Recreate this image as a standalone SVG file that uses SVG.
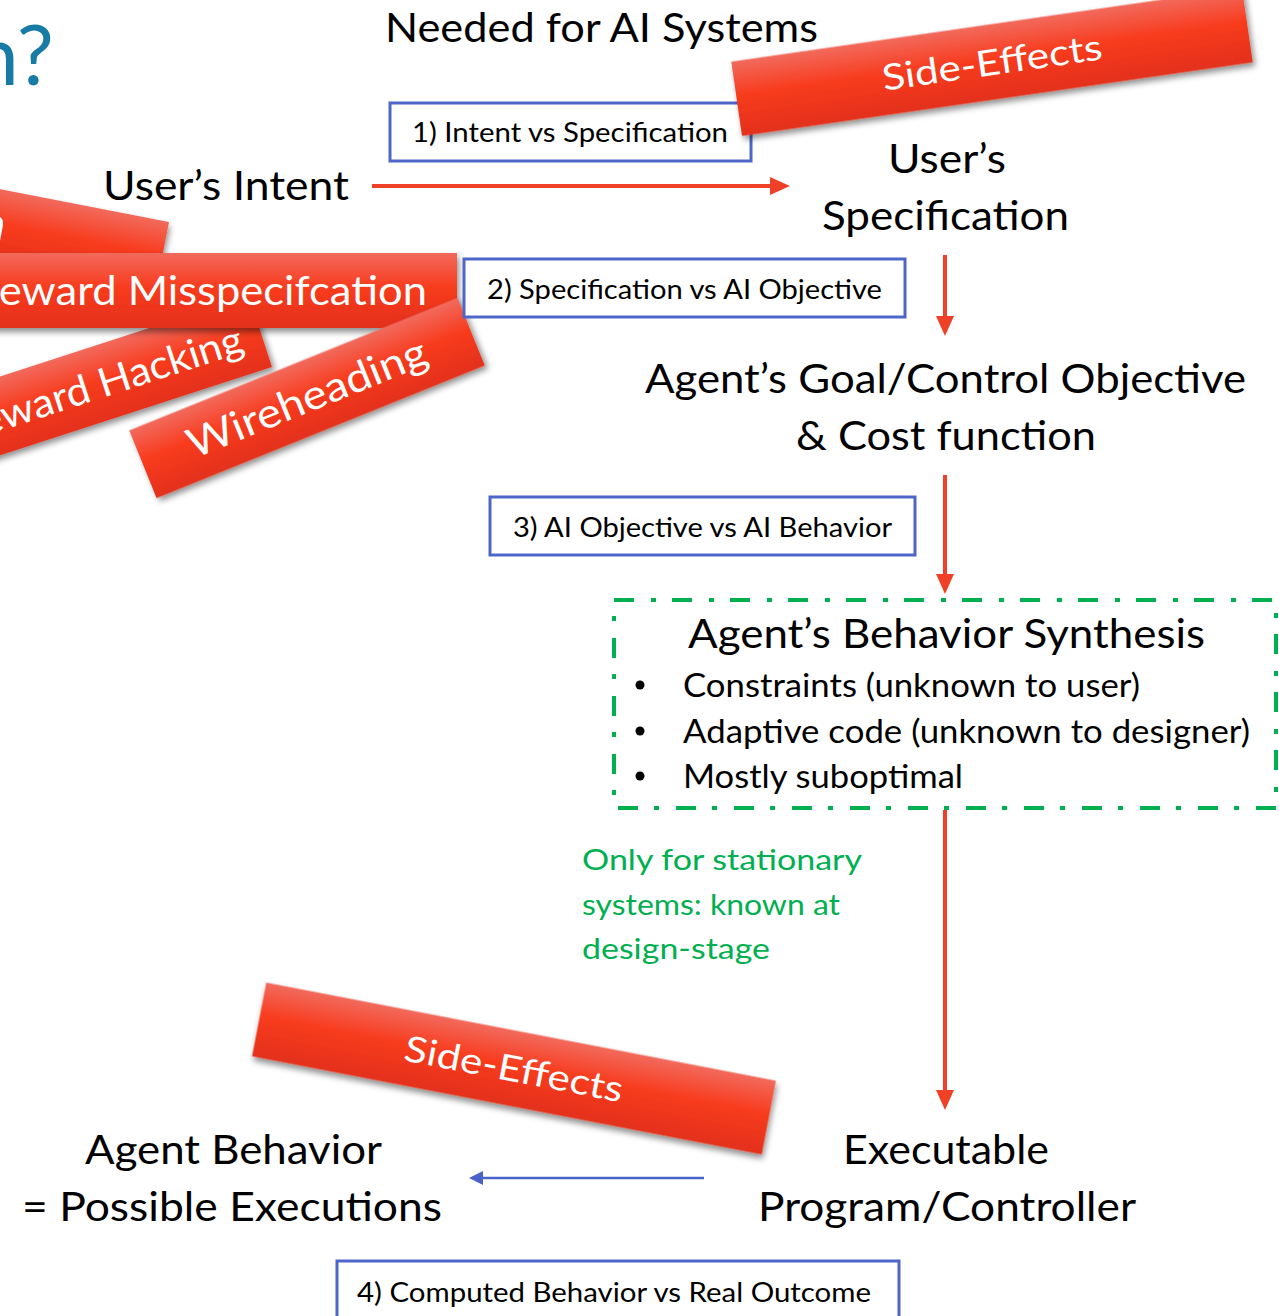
<svg xmlns="http://www.w3.org/2000/svg" width="1279" height="1316" viewBox="0 0 1279 1316">
  <defs>
    <linearGradient id="bannerFill" x1="0" y1="0" x2="0" y2="1">
      <stop offset="0" stop-color="#f26a5c"/>
      <stop offset="0.45" stop-color="#f83c1f"/>
      <stop offset="1" stop-color="#e3301a"/>
    </linearGradient>
    <filter id="bannerShadow" x="-10%" y="-30%" width="120%" height="170%">
      <feGaussianBlur in="SourceAlpha" stdDeviation="3"/>
      <feOffset dx="2" dy="4" result="off"/>
      <feComponentTransfer><feFuncA type="linear" slope="0.45"/></feComponentTransfer>
      <feMerge><feMergeNode/><feMergeNode in="SourceGraphic"/></feMerge>
    </filter>
    <marker id="redHead" viewBox="0 0 20 18" markerWidth="20" markerHeight="18" refX="2" refY="9" orient="auto" markerUnits="userSpaceOnUse">
      <path d="M0,0 L20,9 L0,18 z" fill="#ee4127"/>
    </marker>
    <marker id="blueHead" viewBox="0 0 14 14" markerWidth="14" markerHeight="14" refX="2" refY="7" orient="auto" markerUnits="userSpaceOnUse">
      <path d="M0,0 L14,7 L0,14 z" fill="#4a63c8"/>
    </marker>
    <style>
      text { font-family: Lato, "Open Sans", "Liberation Sans", sans-serif; }
      .big { font-size: 40px; fill: #000; }
      .mid { font-size: 32px; fill: #000; }
      .lbl { font-size: 26px; fill: #000; }
      .note { font-size: 29px; fill: #00b050; }
      .bnText { font-size: 40px; fill: #fff; }
      .bnTextSm { font-size: 36px; fill: #fff; }
      .banner { fill: url(#bannerFill); filter: url(#bannerShadow); }
      .cmpBox { fill: #fff; stroke: #4f66c9; stroke-width: 3; }
      .redLine { stroke: #ee4127; stroke-width: 4; fill: none; }
      .blueLine { stroke: #4a63c8; stroke-width: 2.5; fill: none; }
      .synth { fill: none; stroke: #00b050; stroke-width: 4; stroke-dasharray: 20 17 5 16; }
    </style>
  </defs>

  <rect width="1279" height="1316" fill="#fff"/>

  <!-- slide title fragment -->
  <text id="title-fragment" x="54" y="85" text-anchor="end" font-size="83" fill="#177ba6" style="font-size:83px">n?</text>

  <!-- stacked failure-mode banners on the left -->
  <g id="banner-partial" transform="translate(169,222) rotate(11)">
    <rect class="banner" x="-420" y="0" width="420" height="75"/>
    <text class="bnText" x="-159" y="52" text-anchor="end" style="font-size:50px">n</text>
  </g>
  <g id="banner-reward-hacking" transform="translate(272,367) rotate(-18)">
    <rect class="banner" x="-480" y="-75" width="480" height="75"/>
    <text class="bnText" x="-20" y="-23" text-anchor="end" textLength="300" lengthAdjust="spacingAndGlyphs">Reward Hacking</text>
  </g>
  <g id="banner-misspecification">
    <rect class="banner" x="-20" y="253" width="477" height="75"/>
    <text class="bnText" x="-27" y="305" textLength="454" lengthAdjust="spacingAndGlyphs">Reward Misspecifcation</text>
  </g>
  <g id="banner-wireheading" transform="translate(307,398) rotate(-22)">
    <rect class="banner" x="-177" y="-36.5" width="354" height="73"/>
    <text class="bnText" x="0" y="14" text-anchor="middle" textLength="255" lengthAdjust="spacingAndGlyphs" style="font-size:41px">Wireheading</text>
  </g>

  <!-- heading -->
  <text id="heading" class="big" x="385" y="42" textLength="433" lengthAdjust="spacingAndGlyphs">Needed for AI Systems</text>

  <!-- nodes -->
  <g id="node-intent">
    <text class="big" x="103" y="200" textLength="246" lengthAdjust="spacingAndGlyphs">User’s Intent</text>
  </g>
  <g id="node-specification">
    <text class="big" x="888" y="173" textLength="118" lengthAdjust="spacingAndGlyphs">User’s</text>
    <text class="big" x="822" y="230" textLength="247" lengthAdjust="spacingAndGlyphs">Specification</text>
  </g>
  <g id="node-objective">
    <text class="big" x="645" y="393" textLength="601" lengthAdjust="spacingAndGlyphs">Agent’s Goal/Control Objective</text>
    <text class="big" x="796" y="450" textLength="300" lengthAdjust="spacingAndGlyphs">&amp; Cost function</text>
  </g>
  <g id="node-synthesis">
    <rect class="synth" x="614" y="600" width="662" height="208"/>
    <text class="big" x="688" y="648" textLength="517" lengthAdjust="spacingAndGlyphs">Agent’s Behavior Synthesis</text>
    <circle cx="640" cy="685" r="4.5" fill="#000"/>
    <circle cx="640" cy="731" r="4.5" fill="#000"/>
    <circle cx="640" cy="776" r="4.5" fill="#000"/>
    <text class="mid" x="683" y="697" textLength="457" lengthAdjust="spacingAndGlyphs">Constraints (unknown to user)</text>
    <text class="mid" x="683" y="743" textLength="567" lengthAdjust="spacingAndGlyphs">Adaptive code (unknown to designer)</text>
    <text class="mid" x="683" y="788" textLength="280" lengthAdjust="spacingAndGlyphs">Mostly suboptimal</text>
  </g>
  <g id="note-stationary">
    <text class="note" x="582" y="870" textLength="280" lengthAdjust="spacingAndGlyphs">Only for stationary</text>
    <text class="note" x="582" y="915" textLength="258" lengthAdjust="spacingAndGlyphs">systems: known at</text>
    <text class="note" x="582" y="959" textLength="188" lengthAdjust="spacingAndGlyphs">design-stage</text>
  </g>
  <g id="node-program">
    <text class="big" x="843" y="1164" textLength="206" lengthAdjust="spacingAndGlyphs">Executable</text>
    <text class="big" x="758" y="1221" textLength="378" lengthAdjust="spacingAndGlyphs">Program/Controller</text>
  </g>
  <g id="node-behavior">
    <text class="big" x="85" y="1164" textLength="297" lengthAdjust="spacingAndGlyphs">Agent Behavior</text>
    <text class="big" x="22" y="1221" textLength="420" lengthAdjust="spacingAndGlyphs">= Possible Executions</text>
  </g>

  <!-- numbered comparison labels -->
  <g id="label-1">
    <rect class="cmpBox" x="390" y="103" width="361" height="58"/>
    <text class="lbl" x="412" y="142" textLength="316" lengthAdjust="spacingAndGlyphs">1) Intent vs Specification</text>
  </g>
  <g id="label-2">
    <rect class="cmpBox" x="464" y="259" width="441" height="58"/>
    <text class="lbl" x="487" y="299" textLength="395" lengthAdjust="spacingAndGlyphs">2) Specification vs AI Objective</text>
  </g>
  <g id="label-3">
    <rect class="cmpBox" x="490" y="497" width="425" height="58"/>
    <text class="lbl" x="513" y="537" textLength="379" lengthAdjust="spacingAndGlyphs">3) AI Objective vs AI Behavior</text>
  </g>
  <g id="label-4">
    <rect class="cmpBox" x="337" y="1261" width="562" height="80"/>
    <text class="lbl" x="357" y="1302" textLength="514" lengthAdjust="spacingAndGlyphs">4) Computed Behavior vs Real Outcome</text>
  </g>

  <!-- side-effect banners -->
  <g id="banner-side-effects-top" transform="translate(992,62) rotate(-8.2)">
    <rect class="banner" x="-258" y="-37.5" width="516" height="75"/>
    <text class="bnTextSm" x="0" y="13" text-anchor="middle" textLength="222" lengthAdjust="spacingAndGlyphs">Side-Effects</text>
  </g>
  <g id="banner-side-effects-bottom" transform="translate(514,1068.5) rotate(10.9)">
    <rect class="banner" x="-259.5" y="-37.5" width="519" height="75"/>
    <text class="bnTextSm" x="0" y="13" text-anchor="middle" textLength="222" lengthAdjust="spacingAndGlyphs">Side-Effects</text>
  </g>

  <!-- connectors -->
  <g id="connectors">
    <line class="redLine" x1="372" y1="186" x2="772" y2="186" marker-end="url(#redHead)"/>
    <line class="redLine" x1="945" y1="255" x2="945" y2="318" marker-end="url(#redHead)"/>
    <line class="redLine" x1="945" y1="475" x2="945" y2="576" marker-end="url(#redHead)"/>
    <line class="redLine" x1="945" y1="810" x2="945" y2="1092" marker-end="url(#redHead)"/>
    <line class="blueLine" x1="704" y1="1178" x2="481" y2="1178" marker-end="url(#blueHead)"/>
  </g>
</svg>
